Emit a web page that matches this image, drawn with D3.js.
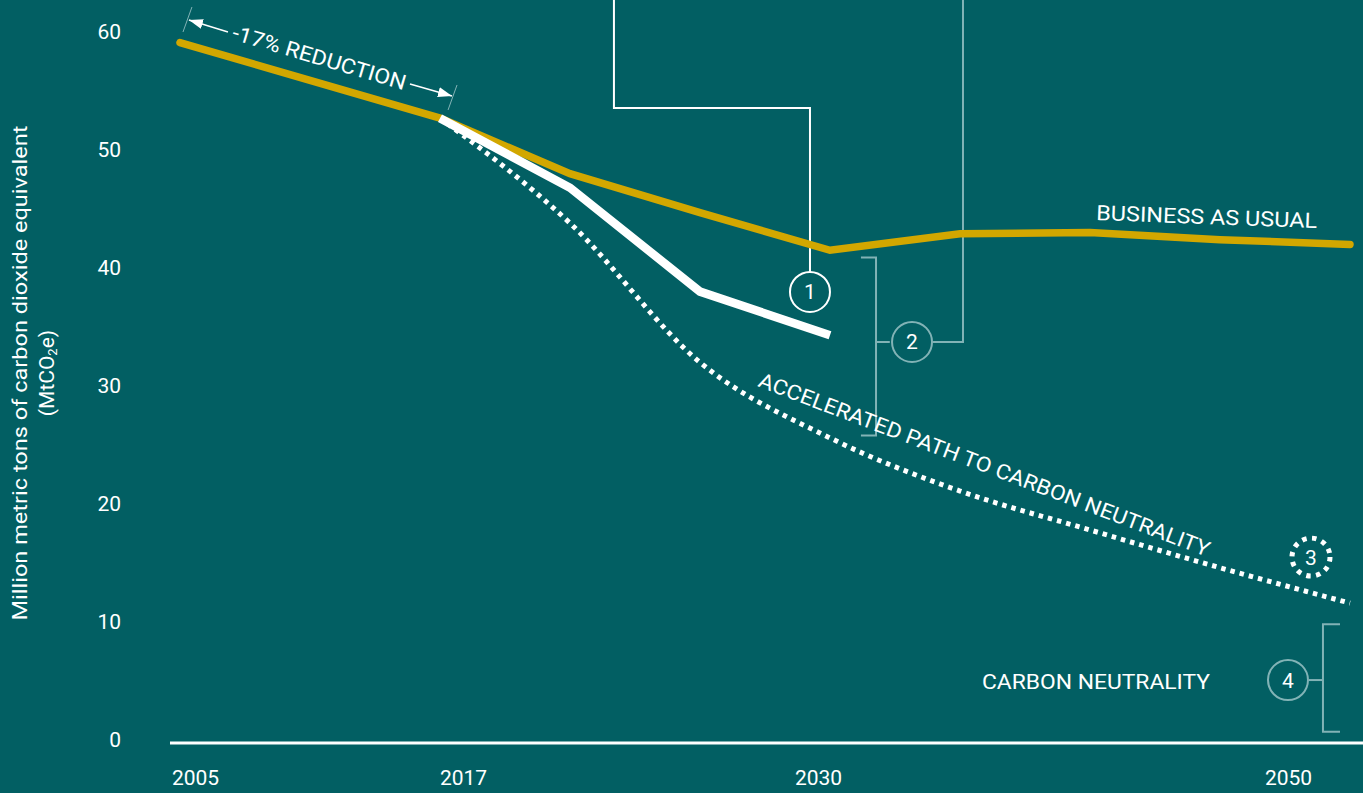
<!DOCTYPE html>
<html>
<head>
<meta charset="utf-8">
<script src="https://cdn.jsdelivr.net/npm/d3@7"></script>
<style>
  html, body { margin: 0; padding: 0; background: #025f63; overflow: hidden; }
  svg { display: block; }
  text { font-family: Roboto, "Open Sans", "DejaVu Sans", sans-serif; fill: #ffffff; }
</style>
</head>
<body>
<svg id="chart" width="1363" height="793"></svg>
<script>
// ---------- data ----------
const steps = [0, 1, 2, 3, 4, 5, 6, 7, 8, 9];
const businessAsUsual = [59.1, 55.9, 52.7, 48.0, 44.7, 41.5, 42.9, 43.0, 42.4, 42.0];
const committedSteps = [2, 3, 4, 5];
const committedPath = [52.7, 46.8, 38.0, 34.3];
const acceleratedSteps = [2, 3, 4, 5, 6, 7, 8, 9];
const acceleratedPath = [52.7, 43.8, 32.0, 25.6, 21.1, 17.8, 14.6, 11.6];
const yTicks = [0, 10, 20, 30, 40, 50, 60];
const xTickYears = [2005, 2017, 2030, 2050];
const yTitle = "Million metric tons of carbon dioxide equivalent";

// ---------- layout ----------
const W = 1363, H = 793;
const FS = "21px";
const COLORS = { bg: "#025f63", gold: "#d2a700", white: "#ffffff", pale: "#82b3b6" };
const svg = d3.select("#chart");
svg.append("rect").attr("width", W).attr("height", H).attr("fill", COLORS.bg);

const x = d3.scaleLinear().domain([0, 9]).range([180, 1350]);
const y = d3.scaleLinear().domain([0, 60]).range([740, 32]);
const xLabel = d3.scaleLinear().domain([2005, 2017, 2030, 2050]).range([195, 463, 818, 1288]);
const P = (i, v) => [x(i), y(v)];

// ---------- axes ----------
const yAxis = svg.append("g").attr("transform", "translate(121,0)")
  .call(d3.axisLeft(y).tickValues(yTicks).tickSize(0).tickPadding(0));
yAxis.select(".domain").remove();
yAxis.selectAll("text").attr("fill", "#fff").style("font-size", FS)
  .style("font-family", "Roboto, sans-serif");

const xAxis = svg.append("g").attr("transform", "translate(0,770)")
  .call(d3.axisBottom(xLabel).tickValues(xTickYears).tickFormat(d3.format("d")).tickSize(0).tickPadding(0));
xAxis.select(".domain").remove();
xAxis.selectAll("text").attr("fill", "#fff").style("font-size", FS)
  .style("font-family", "Roboto, sans-serif");

// baseline
svg.append("line")
  .attr("x1", x(-0.077)).attr("x2", W)
  .attr("y1", y(0) + 3).attr("y2", y(0) + 3)
  .attr("stroke", COLORS.white).attr("stroke-width", 3);

// y title
const yt = svg.append("g").attr("transform", "translate(0,373) rotate(-90)");
yt.append("text").attr("x", 0).attr("y", 27).attr("text-anchor", "middle")
  .style("font-size", FS).attr("textLength", 495).attr("lengthAdjust", "spacingAndGlyphs")
  .text(yTitle);
const t2 = yt.append("text").attr("x", 0).attr("y", 54).attr("text-anchor", "middle")
  .style("font-size", FS);
t2.append("tspan").text("(MtCO");
t2.append("tspan").attr("baseline-shift", "-25%").style("font-size", "13px").text("2");
t2.append("tspan").text("e)");

// ---------- annotations (connectors, brackets) ----------
const paleLine = pts => svg.append("path")
  .attr("d", d3.line()(pts)).attr("fill", "none")
  .attr("stroke", COLORS.pale).attr("stroke-width", 2);

// connector for circle 1 (white)
svg.append("path")
  .attr("d", d3.line()([P(3.338, 63), P(3.338, 53.56), P(4.846, 53.56), P(4.846, 37.97 + 20 / 11.8)]))
  .attr("fill", "none").attr("stroke", COLORS.white).attr("stroke-width", 2);

// connector for circle 2
paleLine([P(5.631 + 21 / 130, 33.73), P(6.023, 33.73), P(6.023, 63)]);
// bracket 2
paleLine([P(5.238, 40.9), P(5.354, 40.9), P(5.354, 25.8), P(5.238, 25.8)]);
paleLine([P(5.354, 33.73), P(5.46, 33.73)]);
// bracket 4
paleLine([P(8.923, 9.8), P(8.792, 9.8), P(8.792, 0.7), P(8.923, 0.7)]);
paleLine([P(8.523 + 21 / 130, 5.08), P(8.792, 5.08)]);

// ---------- series ----------
const lineGen = d3.line().x(d => x(d[0])).y(d => y(d[1]));

svg.append("path")
  .attr("d", lineGen.curve(d3.curveMonotoneX)(acceleratedSteps.map((s, i) => [s, acceleratedPath[i]])))
  .attr("fill", "none").attr("stroke", COLORS.white).attr("stroke-width", 5)
  .attr("stroke-dasharray", "4.5 5");

svg.append("path")
  .attr("d", d3.line().x(d => x(d[0])).y(d => y(d[1]))(steps.map((s, i) => [s, businessAsUsual[i]])))
  .attr("fill", "none").attr("stroke", COLORS.gold).attr("stroke-width", 7.5)
  .attr("stroke-linecap", "round").attr("stroke-linejoin", "miter");

svg.append("path")
  .attr("d", d3.line().x(d => x(d[0])).y(d => y(d[1]))(committedSteps.map((s, i) => [s, committedPath[i]])))
  .attr("fill", "none").attr("stroke", COLORS.white).attr("stroke-width", 8.5)
  .attr("stroke-linecap", "butt").attr("stroke-linejoin", "miter");

// ---------- numbered circles ----------
function badge(i, v, label, stroke, dashed) {
  const [cx, cy] = P(i, v);
  const c = svg.append("circle").attr("cx", cx).attr("cy", cy).attr("r", dashed ? 19 : 20)
    .attr("fill", "none").attr("stroke", stroke).attr("stroke-width", dashed ? 5 : 2);
  if (dashed) c.attr("stroke-dasharray", "4.5 5.5");
  svg.append("text").attr("x", cx).attr("y", cy + 7.5).attr("text-anchor", "middle")
    .style("font-size", FS).text(label);
}
badge(4.846, 37.97, "1", COLORS.white, false);
badge(5.631, 33.73, "2", COLORS.pale, false);
badge(8.7, 15.5, "3", COLORS.white, true);
badge(8.523, 5.08, "4", COLORS.pale, false);

// ---------- text labels ----------
function rotLabel(i, v, angle, txt, len) {
  const [px, py] = P(i, v);
  const t = svg.append("text").attr("transform", `translate(${px},${py}) rotate(${angle})`)
    .style("font-size", FS).text(txt);
  if (len) t.attr("textLength", len).attr("lengthAdjust", "spacingAndGlyphs");
  return t;
}
rotLabel(7.046, 44.07, 2.1, "BUSINESS AS USUAL", 221);
rotLabel(4.438, 30.0, 20.8, "ACCELERATED PATH TO CARBON NEUTRALITY", 481);
rotLabel(6.169, 4.32, 0, "CARBON NEUTRALITY", 228);
rotLabel(0.392, 59.41, 16.5, "-17% REDUCTION", 180);

// -17% arrows and ticks
const defs = svg.append("defs");
defs.append("marker").attr("id", "arr").attr("viewBox", "0 0 14 10")
  .attr("refX", 14).attr("refY", 5).attr("markerWidth", 14).attr("markerHeight", 10)
  .attr("markerUnits", "userSpaceOnUse").attr("orient", "auto")
  .append("path").attr("d", "M0,0 L14,5 L0,10 Z").attr("fill", COLORS.white);

svg.append("path").attr("d", d3.line()([P(0.369, 60.0), P(0.069, 61.02)]))
  .attr("stroke", COLORS.white).attr("stroke-width", 1.5).attr("marker-end", "url(#arr)");
svg.append("path").attr("d", d3.line()([P(1.769, 55.59), P(2.092, 54.58)]))
  .attr("stroke", COLORS.white).attr("stroke-width", 1.5).attr("marker-end", "url(#arr)");
paleLine([P(0.092, 62.12), P(0.023, 60.0)]).attr("stroke-width", 1);
paleLine([P(2.131, 55.51), P(2.062, 53.39)]).attr("stroke-width", 1);
</script>
</body>
</html>
